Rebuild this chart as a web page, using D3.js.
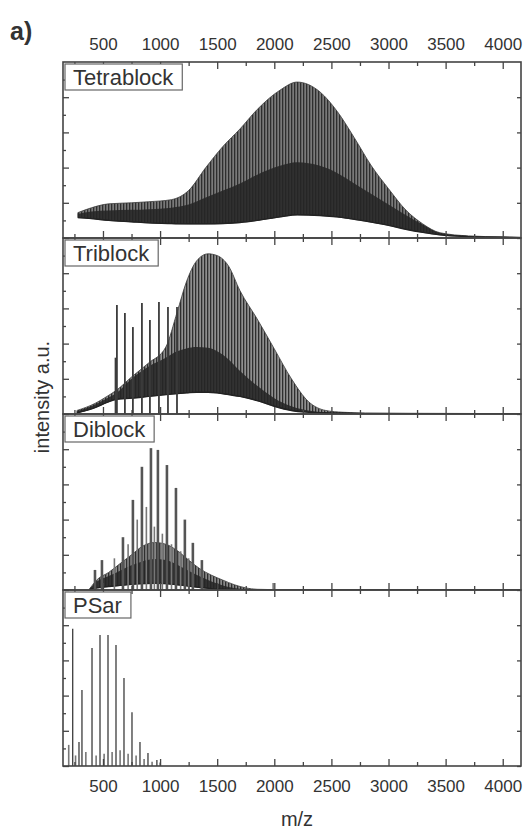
<!DOCTYPE html>
<html>
<head>
<meta charset="utf-8">
<script src="https://cdn.jsdelivr.net/npm/d3@7"></script>
<style>
  body { margin: 0; background: #fff; }
  text { font-family: "Liberation Sans", Arial, sans-serif; fill: #333; }
</style>
</head>
<body>
<div id="chart"></div>
<script>
// panels, top to bottom
var panelNames = ["Tetrablock", "Triblock", "Diblock", "PSar"];

// tick values
var xTicks = [500, 1000, 1500, 2000, 2500, 3000, 3500, 4000];
var xMinor = [250, 750, 1250, 1750, 2250, 2750, 3250, 3750];
var yTicks = [0, 1, 2, 3, 4];
var yMinor = [0.5, 1.5, 2.5, 3.5, 4.5];

// Tetrablock: m/z grid, peak envelope, dense core, valley (intensity a.u.)
var tetraMz = [280, 400, 550, 750, 900, 1100, 1250, 1400, 1550, 1700, 1850, 2050, 2200, 2400, 2550, 2700, 2850, 3000, 3150, 3300, 3450, 3700, 4000, 4160];
var tetraPeak = [0.72, 0.86, 0.97, 1.0, 1.03, 1.09, 1.35, 2.0, 2.6, 3.1, 3.65, 4.2, 4.43, 4.15, 3.6, 2.85, 2.05, 1.4, 0.8, 0.4, 0.15, 0.06, 0.03, 0.02];
var tetraCore = [0.68, 0.75, 0.78, 0.8, 0.82, 0.86, 0.95, 1.15, 1.35, 1.55, 1.8, 2.05, 2.15, 2.05, 1.85, 1.55, 1.25, 0.95, 0.65, 0.38, 0.14, 0.06, 0.03, 0.02];
var tetraValley = [0.58, 0.55, 0.5, 0.46, 0.43, 0.41, 0.4, 0.4, 0.41, 0.44, 0.5, 0.6, 0.66, 0.64, 0.6, 0.53, 0.45, 0.36, 0.25, 0.16, 0.09, 0.04, 0.02, 0.01];

// Triblock
var triMz = [272, 430, 535, 620, 750, 900, 1050, 1150, 1230, 1320, 1420, 1500, 1600, 1700, 1850, 2000, 2150, 2300, 2450, 2600, 2800, 3200, 4160];
var triPeak = [0.1, 0.3, 0.5, 0.68, 1.05, 1.45, 1.9, 2.9, 3.75, 4.35, 4.55, 4.5, 4.2, 3.5, 2.7, 1.85, 1.0, 0.35, 0.1, 0.05, 0.03, 0.02, 0.01];
var triCore = [0.08, 0.27, 0.45, 0.6, 1.0, 1.35, 1.6, 1.78, 1.86, 1.9, 1.88, 1.78, 1.55, 1.22, 0.8, 0.45, 0.22, 0.1, 0.05, 0.04, 0.03, 0.02, 0.01];
var triValley = [0.03, 0.18, 0.33, 0.42, 0.45, 0.5, 0.55, 0.58, 0.6, 0.62, 0.62, 0.6, 0.55, 0.5, 0.38, 0.22, 0.1, 0.05, 0.03, 0.02, 0.01, 0.01, 0];
var triSpikeMz = [610, 622, 692, 762, 841, 911, 990, 1069, 1148];
var triSpikeVal = [1.6, 3.1, 2.87, 2.47, 3.15, 2.67, 3.18, 3.04, 3.04];

// Diblock
var diMz = [380, 450, 550, 650, 750, 850, 950, 1050, 1150, 1250, 1350, 1450, 1550, 1650, 1750, 1850, 2000, 4160];
var diPeak = [0.02, 0.3, 0.5, 0.75, 1.0, 1.25, 1.35, 1.3, 1.12, 0.85, 0.6, 0.42, 0.28, 0.15, 0.06, 0.02, 0.01, 0];
var diCore = [0.02, 0.25, 0.4, 0.55, 0.7, 0.82, 0.88, 0.85, 0.72, 0.55, 0.38, 0.24, 0.13, 0.06, 0.03, 0.01, 0.01, 0];
var diValley = [0.01, 0.06, 0.1, 0.13, 0.16, 0.18, 0.19, 0.18, 0.15, 0.11, 0.07, 0.04, 0.02, 0.01, 0.01, 0, 0, 0];
var diSpikeMz = [430, 491, 675, 762, 841, 920, 981, 1060, 1139, 1217, 1287, 1366];
var diSpikeVal = [0.57, 0.85, 1.5, 2.56, 3.5, 4.03, 3.98, 3.55, 2.9, 2.0, 1.34, 0.85];
var diMinorMz = [600, 720, 800, 880, 950, 1020, 1100, 1180, 1250, 1990];
var diMinorVal = [0.9, 1.3, 2.0, 2.36, 1.8, 1.6, 1.3, 1.1, 0.9, 0.2];

// PSar
var psarSpikeMz = [235, 290, 316, 404, 474, 544, 614, 684, 754, 824, 894, 972];
var psarSpikeVal = [3.9, 0.68, 2.16, 3.35, 3.72, 3.72, 3.44, 2.5, 1.53, 0.68, 0.37, 0.17];
var psarMinorMz = [200, 260, 350, 440, 510, 580, 650, 720, 790, 860, 930, 1000];
var psarMinorVal = [0.6, 0.3, 0.4, 0.3, 0.35, 0.4, 0.45, 0.35, 0.3, 0.2, 0.12, 0.1];

function zip(a, b) {
  return a.map(function(v, i) { return [v, b[i]]; });
}

var panels = [
  { dense: { mz: tetraMz, peak: tetraPeak, core: tetraCore, valley: tetraValley }, bg: "#7a7a7a", spikes: [], minor: [], sw: 1.8 },
  { dense: { mz: triMz, peak: triPeak, core: triCore, valley: triValley }, bg: "#8f8f8f", spikes: zip(triSpikeMz, triSpikeVal), minor: [], sw: 1.8 },
  { dense: { mz: diMz, peak: diPeak, core: diCore, valley: diValley }, bg: "#8a8a8a", spikes: zip(diSpikeMz, diSpikeVal), minor: zip(diMinorMz, diMinorVal), sw: 2.6 },
  { dense: null, bg: "#888", spikes: zip(psarSpikeMz, psarSpikeVal), minor: zip(psarMinorMz, psarMinorVal), sw: 1.3 }
];

// layout
var width = 523, height = 829;
var plotLeft = 63, plotRight = 521, plotTop = 62, panelH = 176;
var plotBottom = plotTop + panelH * 4;

var svg = d3
  .select("#chart")
  .append("svg")
  .attr("width", width)
  .attr("height", height)
  .style("background", "#fff");

var defs = svg.append("defs");

var x = d3.scaleLinear().domain([150, 4160]).range([plotLeft, plotRight]);

panels.forEach(function(p, i) {
  var top = plotTop + i * panelH;
  var bottom = top + panelH;
  var y = d3.scaleLinear().domain([0, 5]).range([bottom, top]);

  // stripe pattern to fake the unresolved peak comb
  var pat = defs
    .append("pattern")
    .attr("id", "stripes" + i)
    .attr("patternUnits", "userSpaceOnUse")
    .attr("width", 3)
    .attr("height", 8);
  pat.append("rect").attr("width", 3).attr("height", 8).attr("fill", p.bg);
  pat.append("rect").attr("width", 1.3).attr("height", 8).attr("fill", "#2e2e2e");

  defs
    .append("clipPath")
    .attr("id", "clip" + i)
    .append("rect")
    .attr("x", plotLeft)
    .attr("y", top)
    .attr("width", plotRight - plotLeft)
    .attr("height", panelH);

  var g = svg.append("g").attr("clip-path", "url(#clip" + i + ")");

  if (p.dense) {
    var pts = p.dense.mz.map(function(m, k) {
      return { mz: m, peak: p.dense.peak[k], core: p.dense.core[k], valley: p.dense.valley[k] };
    });

    var envelope = d3.area()
      .curve(d3.curveMonotoneX)
      .x(function(d) { return x(d.mz); })
      .y0(function(d) { return y(d.valley); })
      .y1(function(d) { return y(d.peak); });

    var core = d3.area()
      .curve(d3.curveMonotoneX)
      .x(function(d) { return x(d.mz); })
      .y0(function(d) { return y(d.valley); })
      .y1(function(d) { return y(d.core); });

    g.append("path")
      .datum(pts)
      .attr("d", envelope)
      .attr("fill", "url(#stripes" + i + ")")
      .attr("stroke", "#3a3a3a")
      .attr("stroke-width", 0.8);

    g.append("path")
      .datum(pts)
      .attr("d", core)
      .attr("fill", "#262626")
      .attr("fill-opacity", 0.88);

    // thin baseline under the valley
    g.append("path")
      .datum(pts)
      .attr("d", d3.line()
        .curve(d3.curveMonotoneX)
        .x(function(d) { return x(d.mz); })
        .y(function(d) { return y(d.valley); }))
      .attr("fill", "none")
      .attr("stroke", "#222")
      .attr("stroke-width", 1.4);
  }

  g.selectAll(".minor")
    .data(p.minor)
    .enter()
    .append("line")
    .attr("x1", function(d) { return x(d[0]); })
    .attr("x2", function(d) { return x(d[0]); })
    .attr("y1", y(0))
    .attr("y2", function(d) { return y(d[1]); })
    .attr("stroke", "#777")
    .attr("stroke-width", 1.6);

  g.selectAll(".spike")
    .data(p.spikes)
    .enter()
    .append("line")
    .attr("x1", function(d) { return x(d[0]); })
    .attr("x2", function(d) { return x(d[0]); })
    .attr("y1", y(0))
    .attr("y2", function(d) { return y(d[1]); })
    .attr("stroke", i == 2 ? "#555" : "#3c3c3c")
    .attr("stroke-width", p.sw);

  // inward ticks on all four sides
  var tickAxes = [
    { axis: d3.axisBottom(x).tickValues(xTicks).tickSize(7), t: "translate(0," + top + ")" },
    { axis: d3.axisBottom(x).tickValues(xMinor).tickSize(4), t: "translate(0," + top + ")" },
    { axis: d3.axisTop(x).tickValues(xTicks).tickSize(7), t: "translate(0," + bottom + ")" },
    { axis: d3.axisTop(x).tickValues(xMinor).tickSize(4), t: "translate(0," + bottom + ")" },
    { axis: d3.axisRight(y).tickValues(yTicks).tickSize(6), t: "translate(" + plotLeft + ",0)" },
    { axis: d3.axisRight(y).tickValues(yMinor).tickSize(3), t: "translate(" + plotLeft + ",0)" },
    { axis: d3.axisLeft(y).tickValues(yTicks).tickSize(4), t: "translate(" + plotRight + ",0)" }
  ];
  tickAxes.forEach(function(a) {
    var ag = svg.append("g")
      .attr("transform", a.t)
      .call(a.axis.tickFormat(""));
    ag.select(".domain").remove();
    ag.selectAll("line").attr("stroke", "#444").attr("stroke-width", 1.3);
  });

  // frame
  svg.append("rect")
    .attr("x", plotLeft)
    .attr("y", top)
    .attr("width", plotRight - plotLeft)
    .attr("height", panelH)
    .attr("fill", "none")
    .attr("stroke", "#444")
    .attr("stroke-width", 1.6);

  // label box
  var labG = svg.append("g");
  var box = labG.append("rect")
    .attr("x", plotLeft + 2)
    .attr("y", top + 2)
    .attr("height", 26)
    .attr("fill", "#fff")
    .attr("stroke", "#666")
    .attr("stroke-width", 1.2);
  var lab = labG.append("text")
    .attr("x", plotLeft + 10)
    .attr("y", top + 23)
    .style("font-size", "22px")
    .text(panelNames[i]);
  box.attr("width", lab.node().getComputedTextLength() + 17);
});

// labelled x axes top and bottom
var topAxis = svg.append("g")
  .attr("transform", "translate(0," + plotTop + ")")
  .call(d3.axisTop(x).tickValues(xTicks).tickSize(0).tickPadding(12).tickFormat(d3.format("d")));
var bottomAxis = svg.append("g")
  .attr("transform", "translate(0," + plotBottom + ")")
  .call(d3.axisBottom(x).tickValues(xTicks).tickSize(0).tickPadding(14).tickFormat(d3.format("d")));
[topAxis, bottomAxis].forEach(function(a) {
  a.select(".domain").remove();
  a.selectAll("text")
    .style("font-size", "17px")
    .style("font-family", "'Liberation Sans', Arial, sans-serif")
    .attr("fill", "#3a3a3a");
});

svg.append("text")
  .attr("x", (plotLeft + plotRight) / 2 + 5)
  .attr("y", 826)
  .attr("text-anchor", "middle")
  .style("font-size", "20px")
  .text("m/z");

svg.append("text")
  .attr("transform", "translate(49," + 397 + ") rotate(-90)")
  .attr("text-anchor", "middle")
  .style("font-size", "20px")
  .text("intensity a.u.");

svg.append("text")
  .attr("x", 10)
  .attr("y", 40)
  .style("font-size", "25px")
  .style("font-weight", "bold")
  .text("a)");
</script>
</body>
</html>
